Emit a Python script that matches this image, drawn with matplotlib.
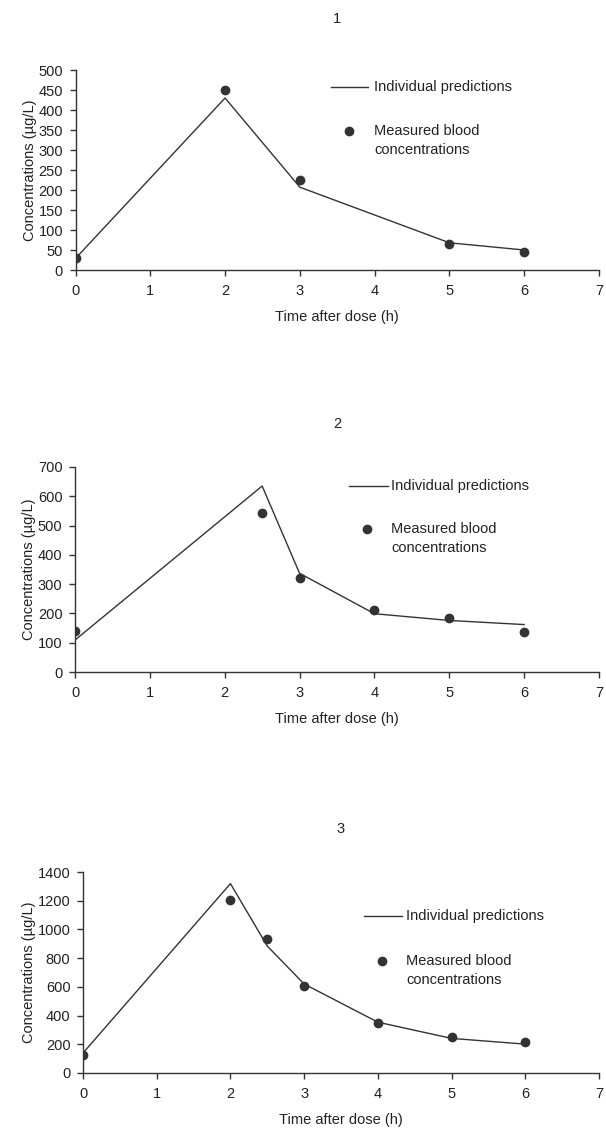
import matplotlib
matplotlib.use("Agg")
import matplotlib.pyplot as plt
from matplotlib.lines import Line2D

plt.rcParams['font.family'] = ['Liberation Sans', 'DejaVu Sans']

# panel 1
t1 = [0, 2, 3, 5, 6]
pred1 = [29, 430, 207, 68, 50]
obs1 = [31, 450, 225, 65, 45]

# panel 2
t2 = [0, 2.5, 3, 4, 5, 6]
pred2 = [109, 635, 337, 199, 176, 162]
obs2 = [140, 542, 320, 211, 183, 136]

# panel 3
t3 = [0, 2, 2.5, 3, 4, 5, 6]
pred3 = [139, 1319, 884, 620, 354, 241, 201]
obs3 = [127, 1204, 930, 609, 347, 250, 213]

titles = ["1", "2", "3"]
ymaxes = [500, 700, 1400]
ysteps = [50, 100, 200]
title_pads = [34, 28, 28]

W, H = 606, 1132
# axes boxes in pixels: left, top, right, bottom
boxes = [(75.5, 70, 599, 270), (75, 467, 599, 672), (83, 872, 599, 1073)]
# legend anchor in pixels: line start, line end, line y, marker x, marker y, text x
legends = [(331, 368, 87, 349, 131, 374),
           (349, 388, 486, 367, 529, 391),
           (364, 402, 916, 382, 961, 406)]

dark = '#333333'
txt = '#222222'
fs = 10.5

fig = plt.figure(figsize=(W / 100, H / 100), dpi=100)

panels = [(t1, pred1, obs1), (t2, pred2, obs2), (t3, pred3, obs3)]
for i, (t, pred, obs) in enumerate(panels):
    l, tp, r, b = boxes[i]
    ax = fig.add_axes([l / W, 1 - b / H, (r - l) / W, (b - tp) / H])
    ax.plot(t, pred, color=dark, lw=1.0)
    ax.plot(t, obs, 'o', color=dark, ms=6, mec=dark)

    ax.set_xlim(0, 7)
    ax.set_ylim(0, ymaxes[i])
    ax.set_xticks(range(0, 8))
    ax.set_yticks(range(0, ymaxes[i] + 1, ysteps[i]))
    for s in ['top', 'right']:
        ax.spines[s].set_visible(False)
    for s in ['left', 'bottom']:
        ax.spines[s].set_color(dark)
        ax.spines[s].set_linewidth(1.0)
    ax.tick_params(direction='out', length=4, width=1.0, color=dark,
                   labelsize=fs, labelcolor=txt, pad=5)
    ax.tick_params(axis='x', pad=6)
    ax.set_xlabel('Time after dose (h)', fontsize=fs, color=txt, labelpad=9)
    ax.set_ylabel('Concentrations (µg/L)', fontsize=fs, color=txt, labelpad=1)
    ax.set_title(titles[i], fontsize=fs, color=txt, pad=title_pads[i])

    # legend drawn by hand so the dot lines up with the first text row
    x1, x2, ly, mx, my, tx = legends[i]
    fig.add_artist(Line2D([x1 / W, x2 / W], [1 - ly / H, 1 - ly / H],
                          color=dark, lw=1.0))
    fig.add_artist(Line2D([mx / W], [1 - my / H], marker='o', color=dark,
                          ms=6, linestyle='none'))
    fig.text(tx / W, 1 - ly / H, 'Individual predictions', fontsize=fs,
             color=txt, va='center')
    fig.text(tx / W, 1 - my / H, 'Measured blood', fontsize=fs,
             color=txt, va='center')
    fig.text(tx / W, 1 - (my + 19) / H, 'concentrations', fontsize=fs,
             color=txt, va='center')

fig.savefig('out.png', dpi=100)
